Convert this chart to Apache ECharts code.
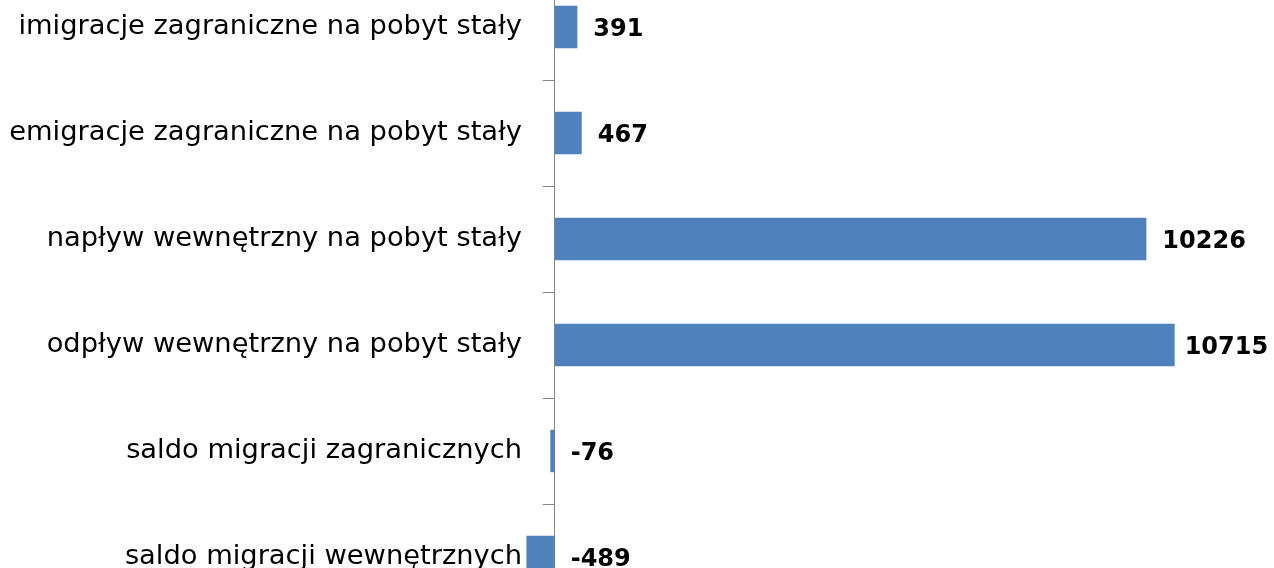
<!DOCTYPE html>
<html>
<head>
<meta charset="utf-8">
<script src="https://cdn.jsdelivr.net/npm/echarts@6/dist/echarts.min.js"></script>
<style>
html, body { margin: 0; padding: 0; background: #fff; }
#chart { width: 1274px; height: 568px; }
</style>
</head>
<body>
<div id="chart"></div>
<script>
var categories = [
    'imigracje zagraniczne na pobyt stały',
    'emigracje zagraniczne na pobyt stały',
    'napływ wewnętrzny na pobyt stały',
    'odpływ wewnętrzny na pobyt stały',
    'saldo migracji zagranicznych',
    'saldo migracji wewnętrznych'
];
var values = [391, 467, 10226, 10715, -76, -489];

var myChart = echarts.init(document.getElementById('chart'));

var option = {
    backgroundColor: '#fff',
    animation: false,
    grid: {
        left: 439,
        right: 25,
        top: -26,
        bottom: -42,
        containLabel: false,
        outerBoundsMode: 'none'
    },
    xAxis: {
        type: 'value',
        min: -2000,
        max: 12000,
        show: false
    },
    yAxis: {
        type: 'category',
        inverse: true,
        data: categories,
        axisLine: {
            show: true,
            onZero: true,
            lineStyle: { color: '#868686', width: 1 }
        },
        axisTick: {
            show: true,
            length: 12,
            lineStyle: { color: '#868686' }
        },
        axisLabel: {
            // labels stay at the grid edge, so pull them over to the zero line
            margin: -83,
            color: '#000',
            fontFamily: 'DejaVu Sans',
            fontSize: 27.3
        },
        splitLine: { show: false }
    },
    series: [
        {
            type: 'bar',
            barWidth: '40%',
            itemStyle: { color: '#4F81BD' },
            label: {
                show: true,
                position: 'right',
                distance: 16,
                offset: [0, 3],
                color: '#000',
                fontFamily: 'DejaVu Sans',
                fontWeight: 'bold',
                fontSize: 24
            },
            data: values.map(function (v) {
                // the longest bar's label sits closer so it fits
                return v > 10500 ? { value: v, label: { distance: 10 } } : v;
            })
        }
    ]
};

myChart.setOption(option);
</script>
</body>
</html>
